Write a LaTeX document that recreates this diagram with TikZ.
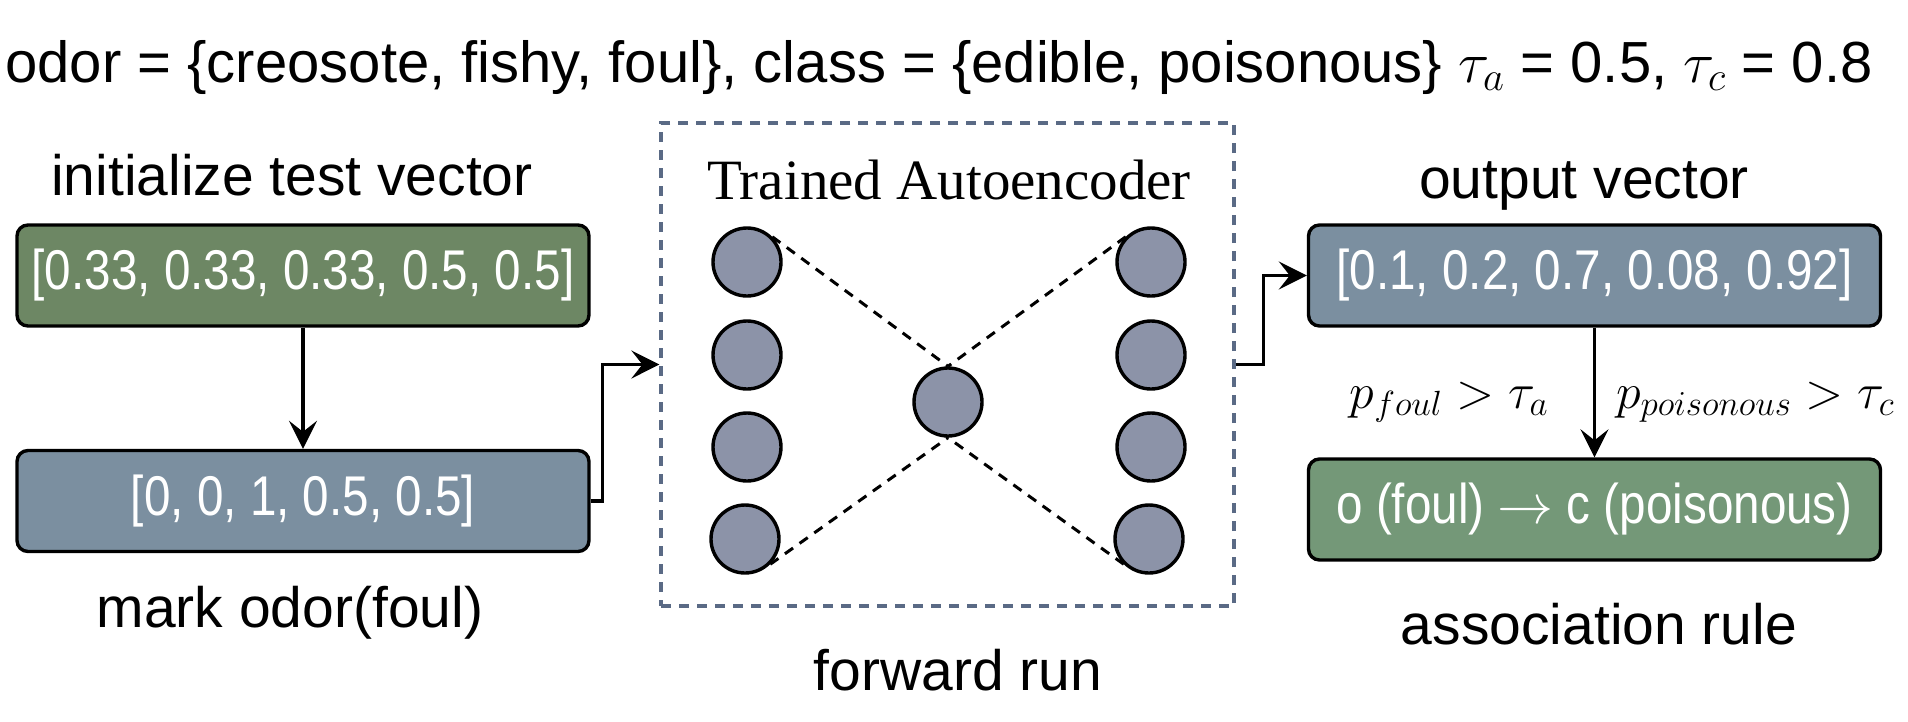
\RequirePackage{fix-cm}
\documentclass[tikz,border=0pt]{standalone}
\usepackage{fontspec}
\setmainfont{Liberation Sans}
\newfontfamily\boxfont{Liberation Sans}[FakeStretch=0.85]
\newfontfamily\aefont{Liberation Serif}
\usetikzlibrary{arrows.meta,positioning}
\definecolor{gdark}{HTML}{6D8764}
\definecolor{glight}{HTML}{749878}
\definecolor{slate}{HTML}{7B8FA0}
\definecolor{neuron}{HTML}{8C93A8}
\definecolor{dashframe}{HTML}{5A6A85}
\tikzset{
  vecbox/.style={draw=black, line width=3.4pt, rounded corners=11pt, minimum width=572pt, minimum height=101pt, inner sep=0pt, text=white, font=\boxfont\fontsize{56}{64}\selectfont},
  lab/.style={font=\fontsize{57}{66}\selectfont, inner sep=0pt},
  neur/.style={circle, draw=black, line width=3.4pt, fill=neuron, minimum size=68pt, inner sep=0pt},
  conn/.style={line width=3.2pt, -{Stealth[length=28pt,width=28pt,inset=11pt]}},
  wire/.style={line width=3pt, dash pattern=on 10pt off 8pt}
}
\begin{document}
\begin{tikzpicture}[x=1pt,y=-1pt]
\useasboundingbox (0,0) rectangle (1908,721);
\node[lab, anchor=base, font=\fontsize{58}{66}\selectfont] (title) at (939,82) {odor = \{creosote, fishy, foul\}, class = \{edible, poisonous\} $\tau_a$ = 0.5, $\tau_c$ = 0.8};

\node[lab] (l1) at (292,175) {initialize test vector};
\node[vecbox, fill=gdark] (b1) at (303,275.5) {[0.33, 0.33, 0.33, 0.5, 0.5]};
\node[vecbox, fill=slate] (b2) at (303,501) {[0, 0, 1, 0.5, 0.5]};
\node[lab] (l2) at (290,613) {mark odor(foul)};

\node[draw=dashframe, line width=3.2pt, dash pattern=on 10pt off 8pt, minimum width=573pt, minimum height=483pt, inner sep=0pt] (ae) at (947.5,364.5) {};
\node[font=\aefont\fontsize{57}{66}\selectfont, inner sep=0pt] (aet) at (949,180) {Trained Autoencoder};
\node[lab] (l3) at (958,670) {forward run};

\node[neur] (i1) at (747,262) {};
\node[neur] (i2) at (747,355) {};
\node[neur] (i3) at (747,447) {};
\node[neur] (i4) at (745,539) {};
\node[neur] (m) at (948,402) {};
\node[neur] (o1) at (1151,262) {};
\node[neur] (o2) at (1151,355) {};
\node[neur] (o3) at (1151,447) {};
\node[neur] (o4) at (1149,539) {};
\draw[wire] (i1.north east) -- (m.north);
\draw[wire] (o1.north west) -- (m.north);
\draw[wire] (i4.south east) -- (m.south);
\draw[wire] (o4.south west) -- (m.south);

\node[lab] (l4) at (1584,186) {output vector};
\node[vecbox, fill=slate] (b3) at (1594.5,275.5) {[0.1, 0.2, 0.7, 0.08, 0.92]};
\node[vecbox, fill=glight] (b4) at (1594.5,509.5) {o (foul) $\rightarrow$ c (poisonous)};
\node[lab] (l5) at (1599,624) {association rule};
\node[inner sep=0pt, font=\fontsize{50}{60}\selectfont] (c1) at (1449,402) {$p_{foul} > \tau_a$};
\node[inner sep=0pt, font=\fontsize{50}{60}\selectfont] (c2) at (1755,402) {$p_{poisonous} > \tau_c$};

\draw[conn] (b1) -- (b2);
\draw[conn] (b2.east) -- ++(12,0) |- (ae.west);
\draw[conn] (ae.east) -- ++(28,0) |- (b3.west);
\draw[conn] (b3) -- (b4);
\end{tikzpicture}
\end{document}
